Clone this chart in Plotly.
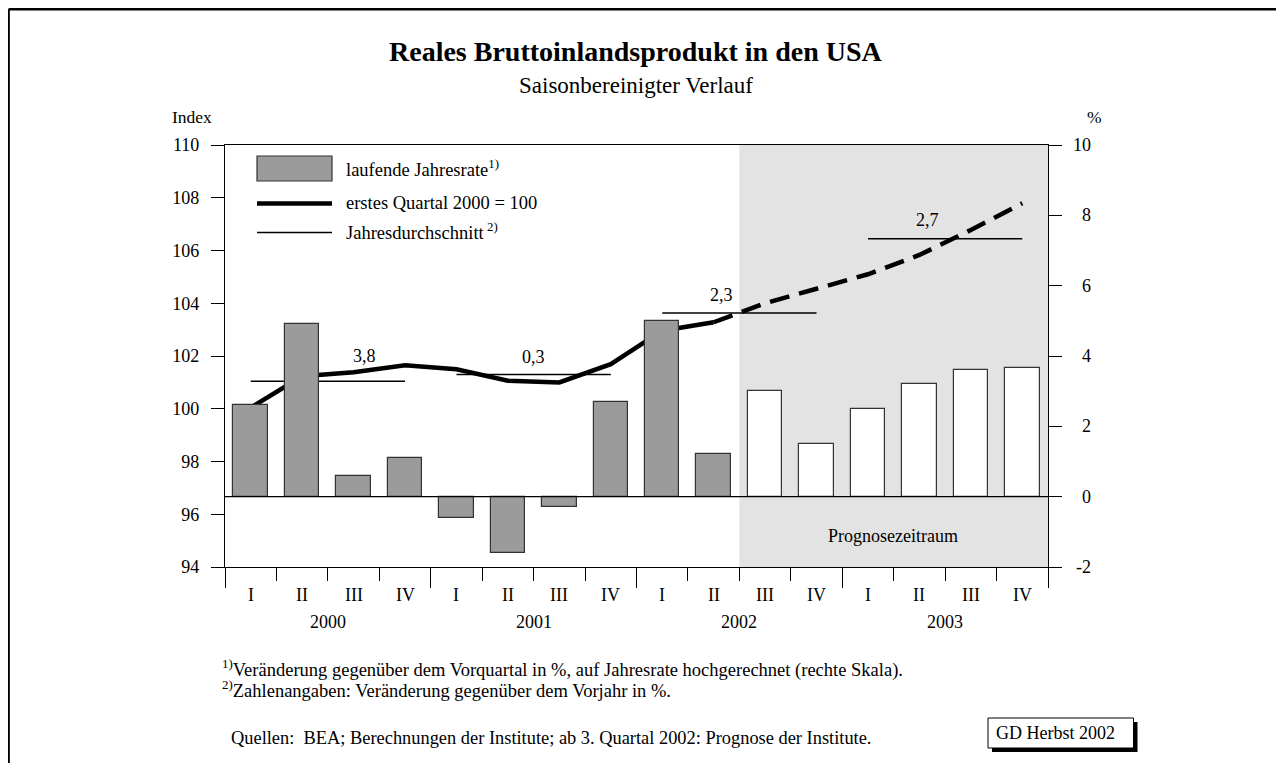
import plotly.graph_objects as go

# ---------------- data ----------------
quarters = ["I", "II", "III", "IV"] * 4
years = ["2000", "2001", "2002", "2003"]
# laufende Jahresrate (% , right scale)
growth_rate = [2.6, 4.9, 0.6, 1.1, -0.6, -1.6, -0.3, 2.7, 5.0, 1.2, 3.0, 1.5, 2.5, 3.2, 3.6, 3.65]
# Index, erstes Quartal 2000 = 100 (left scale)
gdp_index = [100.04, 101.23, 101.38, 101.65, 101.50, 101.06, 101.0, 101.69,
             102.96, 103.28, 104.0, 104.55, 105.1, 105.83, 106.78, 107.79]
# annual averages (index level) and their labels (% change vs previous year)
annual_avg_index = [101.04, 101.3, 103.63, 106.45]
annual_avg_label = ["3,8", "0,3", "2,3", "2,7"]
n_actual = 10  # quarters up to 2002 II are actual, rest is forecast

left_ticks = [94, 96, 98, 100, 102, 104, 106, 108, 110]
right_ticks = [-2, 0, 2, 4, 6, 8, 10]

FONT = "Liberation Serif, Times New Roman, serif"
OFF = 8                       # browser body margin
W, H = 1284 - OFF, 763 - OFF  # figure size
L, R, T, B = 225, 1048, 145, 567  # plot area in page pixels


def px_x(px):
    return (px - L) / (R - L)


def px_y(py):
    return (B - py) / (B - T)


def txt(text, x, y, size, xanchor="center", xref="paper", yref="paper", yshift=0):
    return dict(x=x, y=y, xref=xref, yref=yref, text=text, showarrow=False,
                xanchor=xanchor, yanchor="middle", yshift=yshift,
                font=dict(family=FONT, size=size, color="black"))


n = len(quarters)
xs = list(range(n))

fig = go.Figure()

# bars (right axis)
fig.add_trace(go.Bar(
    x=xs[:n_actual], y=growth_rate[:n_actual], yaxis="y2", width=0.67,
    marker=dict(color="#9b9b9b", line=dict(color="#333333", width=1.2)),
    showlegend=False))
fig.add_trace(go.Bar(
    x=xs[n_actual:], y=growth_rate[n_actual:], yaxis="y2", width=0.67,
    marker=dict(color="white", line=dict(color="#333333", width=1.2)),
    showlegend=False))

# annual averages
for k in range(len(years)):
    fig.add_trace(go.Scatter(
        x=[4 * k, 4 * k + 3], y=[annual_avg_index[k]] * 2, mode="lines",
        line=dict(color="black", width=1.5), showlegend=False))

# index line: solid for actual, dashed for forecast
fig.add_trace(go.Scatter(
    x=xs[:n_actual], y=gdp_index[:n_actual], mode="lines",
    line=dict(color="black", width=4.5), showlegend=False))
fig.add_trace(go.Scatter(
    x=xs[n_actual - 1:], y=gdp_index[n_actual - 1:], mode="lines",
    line=dict(color="black", width=4.5, dash="20px,10px"), showlegend=False))

shapes = []
annotations = []

# forecast shading
shapes.append(dict(type="rect", xref="x", yref="paper", x0=n_actual - 0.5, x1=n - 0.5,
                   y0=0, y1=1, fillcolor="#e3e3e3", line=dict(width=0), layer="below"))
# zero line of right axis
shapes.append(dict(type="line", xref="paper", yref="y2", x0=0, x1=1, y0=0, y1=0,
                   line=dict(color="black", width=1.2), layer="above"))

# average labels
label_dx = [0.72, 0.0, -0.35, -0.34]
label_dy = [25, 17, 18, 19]
for k in range(len(years)):
    annotations.append(txt(annual_avg_label[k], 4 * k + 1.5 + label_dx[k], annual_avg_index[k], 18,
                           xref="x", yref="y", yshift=label_dy[k]))

# category labels
for i in range(n):
    annotations.append(txt(quarters[i], i, px_y(595), 18, xref="x"))
for k, yr in enumerate(years):
    annotations.append(txt(yr, 4 * k + 1.5, px_y(622), 18, xref="x"))

# right axis tick labels (right aligned)
for v in right_ticks:
    annotations.append(txt(str(v), px_x(1093), v, 18, xanchor="right", yref="y2"))

# axis titles
annotations.append(txt("Index", px_x(170), px_y(117), 17.5, xanchor="left"))
annotations.append(txt("%", px_x(1094), px_y(117), 17.5))

# title & subtitle
annotations.append(txt("<b>Reales Bruttoinlandsprodukt in den USA</b>", px_x(636), px_y(52), 28))
annotations.append(txt("Saisonbereinigter Verlauf", px_x(636), px_y(85), 23))

# legend
shapes.append(dict(type="rect", xref="paper", yref="paper", x0=px_x(257), x1=px_x(332),
                   y0=px_y(181), y1=px_y(156), fillcolor="#9b9b9b",
                   line=dict(color="#333333", width=1.2)))
shapes.append(dict(type="line", xref="paper", yref="paper", x0=px_x(257), x1=px_x(332),
                   y0=px_y(203.5), y1=px_y(203.5), line=dict(color="black", width=4.5)))
shapes.append(dict(type="line", xref="paper", yref="paper", x0=px_x(257), x1=px_x(332),
                   y0=px_y(232.5), y1=px_y(232.5), line=dict(color="black", width=1.5)))
leg_texts = ["laufende Jahresrate<sup>1)</sup>", "erstes Quartal 2000 = 100",
             "Jahresdurchschnitt<sup> 2)</sup>"]
leg_y = [168, 203, 231]
for t, yy in zip(leg_texts, leg_y):
    annotations.append(txt(t, px_x(344), px_y(yy), 18.5, xanchor="left"))

# Prognosezeitraum
annotations.append(txt("Prognosezeitraum", px_x(893), px_y(536), 18))

# footnotes
annotations.append(txt("<sup>1)</sup>Veränderung gegenüber dem Vorquartal in %, auf Jahresrate hochgerechnet (rechte Skala).",
                       px_x(220), px_y(668), 18.5, xanchor="left"))
annotations.append(txt("<sup>2)</sup>Zahlenangaben: Veränderung gegenüber dem Vorjahr in %.",
                       px_x(220), px_y(689), 18.5, xanchor="left"))
annotations.append(txt("Quellen:  BEA; Berechnungen der Institute; ab 3. Quartal 2002: Prognose der Institute.",
                       px_x(229), px_y(738), 18.4, xanchor="left"))

# GD Herbst box with shadow
shapes.append(dict(type="rect", xref="paper", yref="paper", x0=px_x(992), x1=px_x(1137.5),
                   y0=px_y(752), y1=px_y(722), fillcolor="black", line=dict(width=0)))
shapes.append(dict(type="rect", xref="paper", yref="paper", x0=px_x(988), x1=px_x(1133.5),
                   y0=px_y(748), y1=px_y(718), fillcolor="white", line=dict(color="black", width=1)))
annotations.append(txt("GD Herbst 2002", px_x(994), px_y(733), 18, xanchor="left"))

# outer frame (top and left edges)
shapes.append(dict(type="line", xref="paper", yref="paper", x0=px_x(8.6), x1=px_x(1300),
                   y0=px_y(9.2), y1=px_y(9.2), line=dict(color="black", width=2.5)))
shapes.append(dict(type="line", xref="paper", yref="paper", x0=px_x(8.6), x1=px_x(8.6),
                   y0=px_y(9.2), y1=px_y(780), line=dict(color="black", width=2.5)))

fig.update_layout(
    width=W, height=H,
    margin=dict(l=L - OFF, r=W - (R - OFF), t=T - OFF, b=H - (B - OFF), pad=0),
    paper_bgcolor="white", plot_bgcolor="rgba(0,0,0,0)",
    barmode="overlay", bargap=0,
    font=dict(family=FONT, size=18, color="black"),
    showlegend=False,
    shapes=shapes, annotations=annotations,
    xaxis=dict(range=[-0.5, n - 0.5], showgrid=False, zeroline=False,
               showline=True, linecolor="black", linewidth=1.2, mirror=True,
               tickmode="array", tickvals=[-0.5, 3.5, 7.5, 11.5, 15.5], showticklabels=False,
               ticks="outside", ticklen=20, tickcolor="black", tickwidth=1.2,
               minor=dict(tickmode="linear", tick0=-0.5, dtick=1, ticks="outside", ticklen=13,
                          tickcolor="black", tickwidth=1, showgrid=False)),
    yaxis=dict(range=[94, 110], tickvals=left_ticks, showgrid=False, zeroline=False,
               showline=True, linecolor="black", linewidth=1.2,
               ticks="outside", ticklen=13, tickcolor="black", tickwidth=1,
               tickfont=dict(family=FONT, size=18, color="black"), ticklabelstandoff=8),
    yaxis2=dict(range=[-2, 10], overlaying="y", side="right", tickvals=right_ticks,
                showgrid=False, zeroline=False, showline=True, linecolor="black", linewidth=1.2,
                ticks="outside", ticklen=13, tickcolor="black", tickwidth=1,
                showticklabels=False),
)

fig.write_html("out.html")
